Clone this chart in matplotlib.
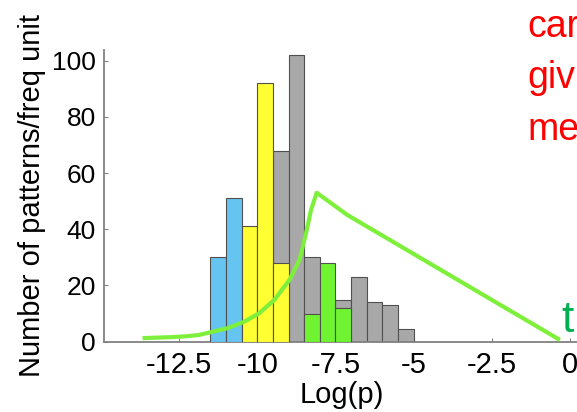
import matplotlib
matplotlib.use("Agg")
import matplotlib.pyplot as plt

plt.rcParams['font.family'] = ['Liberation Sans', 'DejaVu Sans']

# histogram bins (left edges, width 0.5 in log(p))
bin_left = [-11.5, -11.0, -10.5, -10.0, -9.5, -9.0, -8.5, -8.0, -7.5, -7.0, -6.5, -6.0, -5.5]
gray_counts = [0, 0, 0, 0, 68, 102, 30, 0, 15, 23, 14, 13, 4.5]

blue_left = [-11.5, -11.0]
blue_counts = [30, 51]
yellow_left = [-10.5, -10.0, -9.5]
yellow_counts = [41, 92, 28]
green_left = [-8.5, -8.0, -7.5]
green_counts = [10, 28, 12]

# green curve
curve_x = [-13.6, -12.8, -12.3, -11.86, -10.95, -10.42, -9.94, -9.46, -8.97, -8.65, -8.44, -8.28, -8.1, -7.12, -0.38]
curve_y = [1.3, 1.6, 1.9, 2.4, 4.8, 7.1, 10.1, 14.8, 22.0, 29.1, 38.6, 46.9, 53.0, 45.1, 1.0]

xticks = [-12.5, -10, -7.5, -5, -2.5, 0]
xtick_labels = ['-12.5', '-10', '-7.5', '-5', '-2.5', '0']
yticks = [0, 20, 40, 60, 80, 100]

fig = plt.figure(figsize=(5.77, 4.12), dpi=100)
ax = fig.add_axes([104 / 577, (412 - 341.7) / 412, (579.4 - 104) / 577, (341.7 - 50) / 412])

edge = dict(edgecolor='#505050', linewidth=0.8, align='edge', width=0.5)
ax.bar(bin_left, gray_counts, color='#a8a8a8', zorder=2, **edge)
ax.bar(blue_left, blue_counts, color='#66c4f0', zorder=3, **edge)
ax.bar(yellow_left, yellow_counts, color='#ffff33', zorder=3, **edge)
ax.bar(green_left, green_counts, color='#70f432', zorder=3, **edge)

ax.plot(curve_x, curve_y, color='#7ef03c', linewidth=3, zorder=4, solid_joinstyle='round')

ax.set_xlim(-14.9, 0.3)
ax.set_ylim(0, 103.8)
ax.set_xticks(xticks)
ax.set_xticklabels(xtick_labels)
ax.set_yticks(yticks)

for s in ['top', 'right']:
    ax.spines[s].set_visible(False)
for s in ['left', 'bottom']:
    ax.spines[s].set_color('#808080')
    ax.spines[s].set_linewidth(1.3)

ax.tick_params(axis='both', direction='in', length=3, color='#808080')
ax.tick_params(axis='x', labelsize=21, pad=7)
ax.tick_params(axis='y', labelsize=19, pad=6)

ax.set_xlabel('Log(p)', fontsize=21, labelpad=1)
ax.set_ylabel('Number of patterns/freq unit', fontsize=21, labelpad=4)

# slide text cut off at the right edge, as in the source image
fig.text(527 / 577, (412 - 37) / 412, 'car', color='red', fontsize=27, va='baseline')
fig.text(527 / 577, (412 - 88) / 412, 'giv', color='red', fontsize=27, va='baseline')
fig.text(527 / 577, (412 - 140) / 412, 'me', color='red', fontsize=27, va='baseline')
fig.text(561 / 577, (412 - 332) / 412, 't', color='#00b050', fontsize=32, va='baseline')

fig.savefig('out.png', dpi=100)
